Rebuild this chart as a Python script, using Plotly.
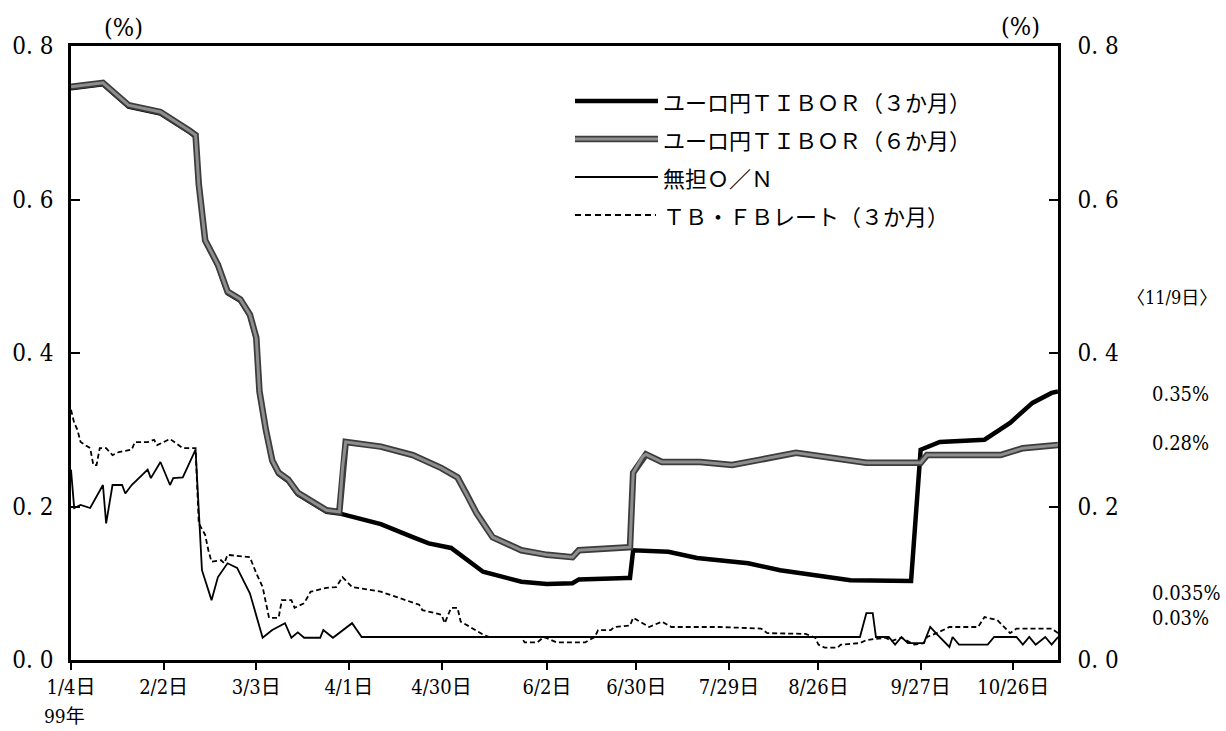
import plotly.graph_objects as go

# ---------------- data ----------------
tibor6_dates = ["1999-01-04", "1999-01-14", "1999-01-22", "1999-02-01", "1999-02-10", "1999-02-12",
                "1999-02-13", "1999-02-15", "1999-02-19", "1999-02-22", "1999-02-26", "1999-03-01",
                "1999-03-03", "1999-03-04", "1999-03-06", "1999-03-08", "1999-03-10", "1999-03-13",
                "1999-03-16", "1999-03-21", "1999-03-25", "1999-03-29", "1999-03-30", "1999-03-31",
                "1999-04-11", "1999-04-21", "1999-04-30", "1999-05-05", "1999-05-08", "1999-05-11",
                "1999-05-16", "1999-05-25", "1999-06-02", "1999-06-10", "1999-06-12", "1999-06-27",
                "1999-06-28", "1999-06-29", "1999-07-02", "1999-07-03", "1999-07-08", "1999-07-20",
                "1999-07-30", "1999-08-19", "1999-09-10", "1999-09-27", "1999-09-29", "1999-10-22",
                "1999-10-29", "1999-11-09"]
tibor6_vals = [0.747, 0.752, 0.723, 0.714, 0.690, 0.684,
               0.620, 0.547, 0.515, 0.480, 0.470, 0.450,
               0.420, 0.350, 0.300, 0.260, 0.244, 0.235,
               0.218, 0.205, 0.195, 0.193, 0.250, 0.284,
               0.278, 0.267, 0.250, 0.238, 0.215, 0.191,
               0.160, 0.143, 0.137, 0.134, 0.143, 0.147,
               0.147, 0.244, 0.265, 0.268, 0.258, 0.258,
               0.254, 0.270, 0.257, 0.257, 0.267, 0.267,
               0.276, 0.280]

tibor3_dates = ["1999-01-04", "1999-01-14", "1999-01-22", "1999-02-01", "1999-02-10", "1999-02-12",
                "1999-02-13", "1999-02-15", "1999-02-19", "1999-02-22", "1999-02-26", "1999-03-01",
                "1999-03-03", "1999-03-04", "1999-03-06", "1999-03-08", "1999-03-10", "1999-03-13",
                "1999-03-16", "1999-03-21", "1999-03-25", "1999-03-29", "1999-04-11", "1999-04-21",
                "1999-04-26", "1999-05-03", "1999-05-08", "1999-05-13", "1999-05-25", "1999-06-02",
                "1999-06-10", "1999-06-12", "1999-06-27", "1999-06-28", "1999-06-29", "1999-07-10",
                "1999-07-19", "1999-08-04", "1999-08-14", "1999-08-30", "1999-09-05", "1999-09-24",
                "1999-09-27", "1999-10-03", "1999-10-17", "1999-10-25", "1999-11-01", "1999-11-07",
                "1999-11-09"]
tibor3_vals = [0.745, 0.750, 0.721, 0.712, 0.688, 0.682,
               0.618, 0.545, 0.513, 0.478, 0.468, 0.448,
               0.418, 0.348, 0.298, 0.258, 0.242, 0.233,
               0.216, 0.203, 0.193, 0.191, 0.177, 0.160,
               0.152, 0.146, 0.130, 0.115, 0.102, 0.099,
               0.100, 0.105, 0.107, 0.107, 0.143, 0.141,
               0.133, 0.126, 0.117, 0.108, 0.104, 0.103,
               0.274, 0.284, 0.287, 0.309, 0.335, 0.348,
               0.350]

on_dates = ["1999-01-04", "1999-01-05", "1999-01-07", "1999-01-10", "1999-01-14", "1999-01-15",
            "1999-01-17", "1999-01-20", "1999-01-21", "1999-01-23", "1999-01-28", "1999-01-29",
            "1999-02-01", "1999-02-04", "1999-02-05", "1999-02-08", "1999-02-12", "1999-02-14",
            "1999-02-17", "1999-02-19", "1999-02-22", "1999-02-25", "1999-03-01", "1999-03-05",
            "1999-03-08", "1999-03-12", "1999-03-14", "1999-03-16", "1999-03-18", "1999-03-23",
            "1999-03-24", "1999-03-27", "1999-04-02", "1999-04-05", "1999-09-08", "1999-09-10",
            "1999-09-12", "1999-09-13", "1999-09-17", "1999-09-19", "1999-09-21", "1999-09-23",
            "1999-09-28", "1999-09-30", "1999-10-02", "1999-10-06", "1999-10-07", "1999-10-09",
            "1999-10-18", "1999-10-20", "1999-10-27", "1999-10-29", "1999-10-31", "1999-11-02",
            "1999-11-05", "1999-11-07", "1999-11-09"]
on_vals = [0.248, 0.198, 0.202, 0.198, 0.228, 0.178,
           0.228, 0.228, 0.217, 0.228, 0.248, 0.237,
           0.258, 0.228, 0.237, 0.238, 0.274, 0.117,
           0.078, 0.108, 0.126, 0.120, 0.087, 0.029,
           0.039, 0.048, 0.029, 0.036, 0.029, 0.029,
           0.039, 0.029, 0.048, 0.030, 0.030, 0.061,
           0.061, 0.030, 0.030, 0.020, 0.030, 0.022,
           0.022, 0.043, 0.034, 0.017, 0.030, 0.020,
           0.020, 0.030, 0.030, 0.020, 0.030, 0.020,
           0.030, 0.020, 0.030]

tb_dates = ["1999-01-04", "1999-01-05", "1999-01-06", "1999-01-07", "1999-01-10", "1999-01-11",
            "1999-01-12", "1999-01-13", "1999-01-15", "1999-01-17", "1999-01-19", "1999-01-23",
            "1999-01-24", "1999-01-28", "1999-01-30", "1999-01-31", "1999-02-04", "1999-02-08",
            "1999-02-12", "1999-02-13", "1999-02-15", "1999-02-16", "1999-02-17", "1999-02-20",
            "1999-02-21", "1999-02-22", "1999-03-01", "1999-03-03", "1999-03-05", "1999-03-07",
            "1999-03-10", "1999-03-11", "1999-03-14", "1999-03-15", "1999-03-18", "1999-03-20",
            "1999-03-25", "1999-03-28", "1999-03-30", "1999-04-02", "1999-04-11", "1999-04-23",
            "1999-04-24", "1999-04-30", "1999-05-01", "1999-05-03", "1999-05-05", "1999-05-06",
            "1999-05-09", "1999-05-13", "1999-05-15", "1999-05-25", "1999-05-26", "1999-05-30",
            "1999-06-01", "1999-06-05", "1999-06-14", "1999-06-17", "1999-06-18", "1999-06-22",
            "1999-06-23", "1999-06-28", "1999-06-29", "1999-07-04", "1999-07-08", "1999-07-11",
            "1999-07-26", "1999-08-08", "1999-08-10", "1999-08-22", "1999-08-25", "1999-08-26",
            "1999-08-28", "1999-09-01", "1999-09-02", "1999-09-08", "1999-09-10", "1999-09-16",
            "1999-09-18", "1999-09-21", "1999-09-25", "1999-09-28", "1999-09-29", "1999-10-02",
            "1999-10-06", "1999-10-15", "1999-10-17", "1999-10-21", "1999-10-25", "1999-10-27",
            "1999-11-07", "1999-11-09"]
tb_vals = [0.326, 0.309, 0.300, 0.284, 0.276, 0.254,
           0.254, 0.276, 0.276, 0.267, 0.271, 0.274,
           0.284, 0.284, 0.287, 0.280, 0.288, 0.276,
           0.276, 0.178, 0.163, 0.143, 0.128, 0.130,
           0.126, 0.137, 0.134, 0.113, 0.095, 0.055,
           0.055, 0.078, 0.078, 0.068, 0.074, 0.089,
           0.094, 0.095, 0.108, 0.095, 0.089, 0.072,
           0.065, 0.059, 0.048, 0.068, 0.068, 0.050,
           0.043, 0.033, 0.030, 0.030, 0.023, 0.023,
           0.030, 0.023, 0.023, 0.030, 0.039, 0.039,
           0.043, 0.045, 0.055, 0.043, 0.050, 0.043,
           0.043, 0.041, 0.035, 0.034, 0.029, 0.020,
           0.016, 0.016, 0.020, 0.022, 0.026, 0.029,
           0.025, 0.029, 0.020, 0.022, 0.030, 0.035,
           0.043, 0.043, 0.056, 0.052, 0.035, 0.041,
           0.041, 0.035]

tick_dates = ["1999-01-04", "1999-02-02", "1999-03-03", "1999-04-01", "1999-04-30", "1999-06-02",
              "1999-06-30", "1999-07-29", "1999-08-26", "1999-09-27", "1999-10-26"]
tick_labels = ["1/4日", "2/2日", "3/3日", "4/1日", "4/30日", "6/2日",
               "6/30日", "7/29日", "8/26日", "9/27日", "10/26日"]
y_ticks = [0.0, 0.2, 0.4, 0.6, 0.8]
y_labels = ["0. 0", "0. 2", "0. 4", "0. 6", "0. 8"]

legend_names = ["ユーロ円ＴＩＢＯＲ（３か月）", "ユーロ円ＴＩＢＯＲ（６か月）", "無担Ｏ／Ｎ", "ＴＢ・ＦＢレート（３か月）"]
end_labels = ["0.35%", "0.28%", "0.035%", "0.03%"]

# ---------------- layout geometry ----------------
W, H = 1226, 731
L, R, T, B = 71, 1058, 46, 660


def px(xp):
    return (xp - L) / (R - L)


def py(yp):
    return (B - yp) / (B - T)


NUM_FONT = "DejaVu Serif Condensed, Liberation Serif, Noto Sans CJK JP, serif"
JP_FONT = "Noto Sans CJK JP, Liberation Serif, sans-serif"

G6_DARK = "#3c3c3c"
G6_LIGHT = "#8e8e8e"

fig = go.Figure()
fig.add_trace(go.Scatter(x=tb_dates, y=tb_vals, mode="lines", name=legend_names[3],
                         line=dict(color="black", width=1.8, dash="5px,3px")))
fig.add_trace(go.Scatter(x=on_dates, y=on_vals, mode="lines", name=legend_names[2],
                         line=dict(color="black", width=1.8)))
fig.add_trace(go.Scatter(x=tibor3_dates, y=tibor3_vals, mode="lines", name=legend_names[0],
                         line=dict(color="black", width=4.5)))
fig.add_trace(go.Scatter(x=tibor6_dates, y=tibor6_vals, mode="lines", name=legend_names[1],
                         yaxis="y2", line=dict(color=G6_DARK, width=6.5)))
fig.add_trace(go.Scatter(x=tibor6_dates, y=tibor6_vals, mode="lines", name=legend_names[1],
                         yaxis="y2", line=dict(color=G6_LIGHT, width=3), showlegend=False))

axis_common = dict(showline=True, linecolor="black", linewidth=2.5, showgrid=False,
                   zeroline=False)

fig.update_layout(
    width=W, height=H,
    margin=dict(l=L, r=W - R, t=T, b=H - B, pad=0),
    paper_bgcolor="white", plot_bgcolor="white",
    showlegend=False,
    xaxis=dict(type="date", range=["1999-01-04", "1999-11-09"],
               tickmode="array", tickvals=tick_dates, ticktext=tick_labels,
               ticks="outside", ticklen=7, tickwidth=2, tickcolor="black",
               mirror=True,
               tickfont=dict(family=NUM_FONT, size=20, color="black"),
               **axis_common),
    yaxis=dict(range=[0, 0.8], tickmode="array", tickvals=y_ticks, ticktext=y_labels,
               ticks="inside", ticklen=9, tickwidth=2, tickcolor="black",
               tickfont=dict(family=NUM_FONT, size=24, color="black"),
               ticklabelstandoff=10,
               **axis_common),
    yaxis2=dict(range=[0, 0.8], tickmode="array", tickvals=y_ticks, ticktext=y_labels,
                overlaying="y", side="right",
                ticks="inside", ticklen=9, tickwidth=2, tickcolor="black",
                tickfont=dict(family=NUM_FONT, size=24, color="black"),
                ticklabelstandoff=12,
                **axis_common),
)

# ---------------- manual legend ----------------
rows_y = [101, 139, 177, 215]
x0, x1 = 575, 658
shapes = []
shapes.append(dict(type="line", xref="paper", yref="paper", x0=px(x0), x1=px(x1),
                   y0=py(rows_y[0]), y1=py(rows_y[0]), line=dict(color="black", width=4.5)))
shapes.append(dict(type="line", xref="paper", yref="paper", x0=px(x0), x1=px(x1),
                   y0=py(rows_y[1]), y1=py(rows_y[1]), line=dict(color=G6_DARK, width=6.5)))
shapes.append(dict(type="line", xref="paper", yref="paper", x0=px(x0), x1=px(x1),
                   y0=py(rows_y[1]), y1=py(rows_y[1]), line=dict(color=G6_LIGHT, width=3)))
shapes.append(dict(type="line", xref="paper", yref="paper", x0=px(x0), x1=px(x1),
                   y0=py(rows_y[2]), y1=py(rows_y[2]), line=dict(color="black", width=1.8)))
shapes.append(dict(type="line", xref="paper", yref="paper", x0=px(x0), x1=px(656),
                   y0=py(rows_y[3]), y1=py(rows_y[3]),
                   line=dict(color="black", width=1.8, dash="6px,4px")))
fig.update_layout(shapes=shapes)

annotations = []
for name, yy in zip(legend_names, rows_y):
    annotations.append(dict(text=name, xref="paper", yref="paper", x=px(661), y=py(yy),
                            xanchor="left", yanchor="middle", showarrow=False,
                            font=dict(family=JP_FONT, size=22, color="black")))

# axis unit labels and notes
annotations.append(dict(text="(%)", xref="paper", yref="paper", x=px(123), y=py(28),
                        xanchor="center", yanchor="middle", showarrow=False,
                        font=dict(family=NUM_FONT, size=25, color="black")))
annotations.append(dict(text="(%)", xref="paper", yref="paper", x=px(1020), y=py(27),
                        xanchor="center", yanchor="middle", showarrow=False,
                        font=dict(family=NUM_FONT, size=25, color="black")))
annotations.append(dict(text="99年", xref="paper", yref="paper", x=px(64), y=py(716),
                        xanchor="center", yanchor="middle", showarrow=False,
                        font=dict(family=NUM_FONT, size=19, color="black")))
annotations.append(dict(text="〈11/9日〉", xref="paper", yref="paper", x=px(1219), y=py(297),
                        xanchor="right", yanchor="middle", showarrow=False,
                        font=dict(family=NUM_FONT, size=18, color="black")))
for txt, yy in zip(end_labels, [394, 443, 593, 618]):
    annotations.append(dict(text=txt, xref="paper", yref="paper", x=px(1150), y=py(yy),
                            xanchor="left", yanchor="middle", showarrow=False,
                            font=dict(family=NUM_FONT, size=20, color="black")))
fig.update_layout(annotations=annotations)

fig.write_html("out.html", config={"displayModeBar": False},
               post_script="document.body.style.margin='0';document.body.style.overflow='hidden';")
